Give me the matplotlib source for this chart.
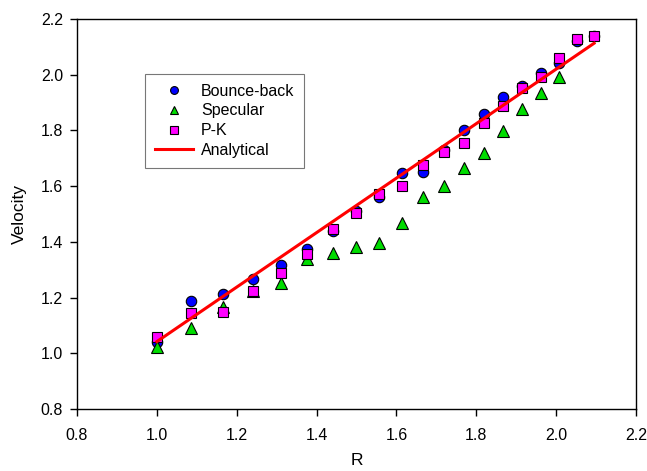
import matplotlib
matplotlib.use("Agg")
import matplotlib.pyplot as plt

plt.rcParams['font.family'] = ['Liberation Sans', 'DejaVu Sans']

R = [1.0, 1.085, 1.165, 1.24, 1.31, 1.375, 1.44, 1.5, 1.557, 1.614,
     1.667, 1.72, 1.77, 1.82, 1.868, 1.915, 1.961, 2.007, 2.051, 2.095]
bounce_back = [1.04, 1.188, 1.213, 1.266, 1.317, 1.373, 1.44, 1.51, 1.56, 1.646,
               1.652, 1.73, 1.802, 1.859, 1.92, 1.96, 2.007, 2.043, 2.122, 2.139]
R_spec = [1.0, 1.085, 1.165, 1.24, 1.31, 1.375, 1.44, 1.5, 1.557, 1.614,
          1.667, 1.72, 1.77, 1.82, 1.868, 1.915, 1.961, 2.007]
specular = [1.024, 1.092, 1.167, 1.225, 1.254, 1.337, 1.359, 1.383, 1.397, 1.467,
            1.56, 1.599, 1.664, 1.72, 1.797, 1.876, 1.935, 1.991]
pk = [1.06, 1.144, 1.149, 1.222, 1.289, 1.356, 1.446, 1.503, 1.572, 1.60,
      1.676, 1.724, 1.754, 1.825, 1.888, 1.952, 1.993, 2.059, 2.128, 2.139]
R_an = [1.0, 2.095]
analytical = [1.042, 2.113]

xticks = [0.8, 1.0, 1.2, 1.4, 1.6, 1.8, 2.0, 2.2]
yticks = [0.8, 1.0, 1.2, 1.4, 1.6, 1.8, 2.0, 2.2]

fig = plt.figure(figsize=(6.47, 4.71), dpi=100)
ax = fig.add_axes([0.119, 0.1316, 0.864, 0.828])

ax.plot(R, bounce_back, linestyle='none', marker='o', ms=7.5, mfc='#0000ff',
        mec='black', mew=0.8, label='Bounce-back', zorder=3)
ax.plot(R_spec, specular, linestyle='none', marker='^', ms=8, mfc='#00dd00',
        mec='black', mew=0.8, label='Specular', zorder=4)
ax.plot(R, pk, linestyle='none', marker='s', ms=7, mfc='#ff00ff',
        mec='black', mew=0.8, label='P-K', zorder=5)
ax.plot(R_an, analytical, color='#ff0000', lw=2.2, label='Analytical', zorder=6)

ax.set_xlim(0.8, 2.2)
ax.set_ylim(0.8, 2.2)
ax.set_xticks(xticks)
ax.set_yticks(yticks)
ax.set_xticklabels([f'{v:.1f}' for v in xticks])
ax.set_yticklabels([f'{v:.1f}' for v in yticks])
ax.tick_params(direction='out', length=5, width=1, labelsize=11.5, top=False, right=False)
ax.tick_params(axis='x', pad=9)
ax.tick_params(axis='y', pad=5)
for s in ax.spines.values():
    s.set_linewidth(1)
ax.set_xlabel('R', fontsize=12.5, labelpad=7)
ax.set_ylabel('Velocity', fontsize=12.5, labelpad=10)

leg = ax.legend(loc='upper left', bbox_to_anchor=(0.1216, 0.859), fontsize=11.5,
                frameon=True, fancybox=False, edgecolor='#555555', borderaxespad=0,
                borderpad=0.6, handlelength=2.4, labelspacing=0.3, handletextpad=0.5,
                markerscale=0.75)
leg.get_frame().set_linewidth(0.8)

fig.savefig('out.png', dpi=100)
